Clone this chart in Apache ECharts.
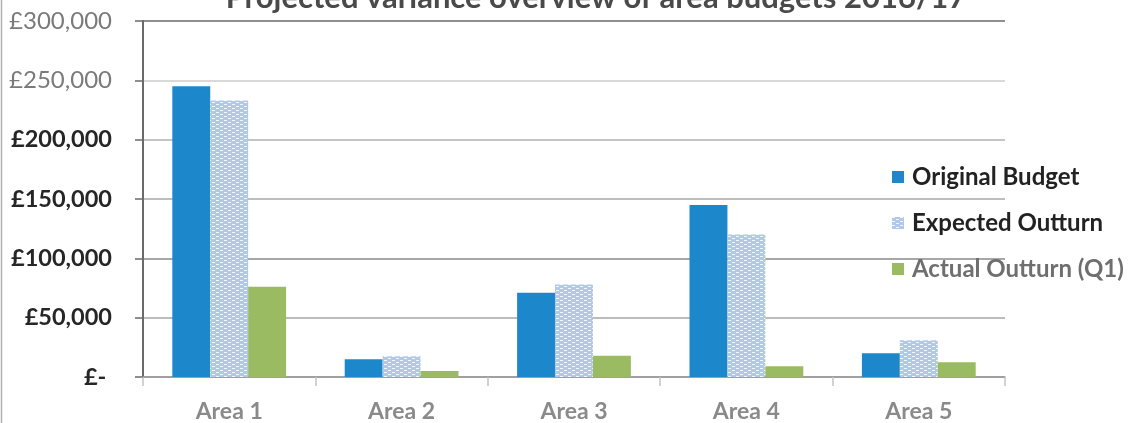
<!DOCTYPE html>
<html>
<head>
<meta charset="utf-8">
<script src="https://cdn.jsdelivr.net/npm/echarts@6/dist/echarts.min.js"></script>
<style>
html,body{margin:0;padding:0;background:#fff;}
#chart{width:1128px;height:423px;}
</style>
</head>
<body>
<div id="chart"></div>
<script>
const categories = ['Area 1', 'Area 2', 'Area 3', 'Area 4', 'Area 5'];
const originalBudget = [245000, 15000, 71000, 145000, 20000];
const expectedOutturn = [233000, 17500, 78000, 120000, 31000];
const actualOutturnQ1 = [76000, 5000, 18000, 9000, 12500];
const seriesNames = ['Original Budget', 'Expected Outturn', 'Actual Outturn (Q1)'];
const titleText = 'Projected variance overview of area budgets 2016/17';

function makePattern() {
  const c = document.createElement('canvas');
  c.width = 8; c.height = 4;
  const g = c.getContext('2d');
  g.fillStyle = '#b2c8e8';
  g.fillRect(0, 0, 8, 4);
  g.fillStyle = '#f4f7fc';
  g.fillRect(0, 0, 3, 1);
  g.fillRect(4, 2, 3, 1);
  return c;
}
const hatch = { image: makePattern(), repeat: 'repeat' };

const font = 'Lato, "Open Sans", sans-serif';
const chart = echarts.init(document.getElementById('chart'), null, { renderer: 'canvas' });
chart.setOption({
  animation: false,
  backgroundColor: '#fff',
  title: {
    text: titleText,
    left: 591, top: -23, textAlign: 'center',
    textStyle: { fontFamily: font, fontSize: 31, fontWeight: 'bold', color: '#4a4a4a' }
  },
  graphic: [{
    type: 'line', shape: { x1: 1.5, y1: 0, x2: 1.5, y2: 423 },
    style: { stroke: '#b0b0b0', lineWidth: 1.5 }
  }],
  legend: {
    orient: 'vertical', left: 887, top: 160, itemGap: 22,
    itemWidth: 12, itemHeight: 12, icon: 'rect',
    textStyle: { fontFamily: font, fontSize: 24, fontWeight: 'bold', color: '#222', padding: [0, 0, 0, 3] },
    data: [
      { name: seriesNames[0] },
      { name: seriesNames[1] },
      { name: seriesNames[2], textStyle: { color: '#6f6f6f' } }
    ]
  },
  grid: { left: 143, right: 123, top: 21, bottom: 44, containLabel: false },
  xAxis: {
    type: 'category', data: categories,
    axisLine: { lineStyle: { color: '#9a9a9a', width: 1.5 } },
    axisTick: { show: true, length: 9, lineStyle: { color: '#c4c4c4', width: 1.5 } },
    axisLabel: { fontFamily: font, fontSize: 23, fontWeight: 'bold', color: '#8a8a8a', margin: 23 }
  },
  yAxis: {
    type: 'value', min: 0, max: 300000, interval: 50000,
    axisLine: { show: true, lineStyle: { color: '#6a6a6a', width: 2 } },
    axisTick: { show: true, length: 8, lineStyle: { color: '#6a6a6a', width: 1.5 } },
    splitLine: { show: true, lineStyle: { color: ['#999', '#a6a6a6', '#8a8a8a', '#a8a8a8', '#b0b0b0', '#cccccc', '#6a6a6a'], width: 1.5 } },
    axisLabel: {
      margin: 31,
      formatter: function (v) {
        const t = v === 0 ? '£- ' : '£' + v.toLocaleString('en-GB');
        return v >= 250000 ? '{g|' + t + '}' : '{d|' + t + '}';
      },
      rich: {
        g: { fontFamily: font, fontSize: 24, color: '#7a7a7a' },
        d: { fontFamily: font, fontSize: 23.5, fontWeight: 'bold', color: '#262626' }
      }
    }
  },
  series: [
    { name: seriesNames[0], type: 'bar', data: originalBudget, barGap: '0%', barCategoryGap: '34%',
      itemStyle: { color: '#1d87cb' } },
    { name: seriesNames[1], type: 'bar', data: expectedOutturn, barGap: '0%', barCategoryGap: '34%',
      itemStyle: { color: hatch } },
    { name: seriesNames[2], type: 'bar', data: actualOutturnQ1, barGap: '0%', barCategoryGap: '34%',
      itemStyle: { color: '#9bbb62' } }
  ]
});
</script>
</body>
</html>
